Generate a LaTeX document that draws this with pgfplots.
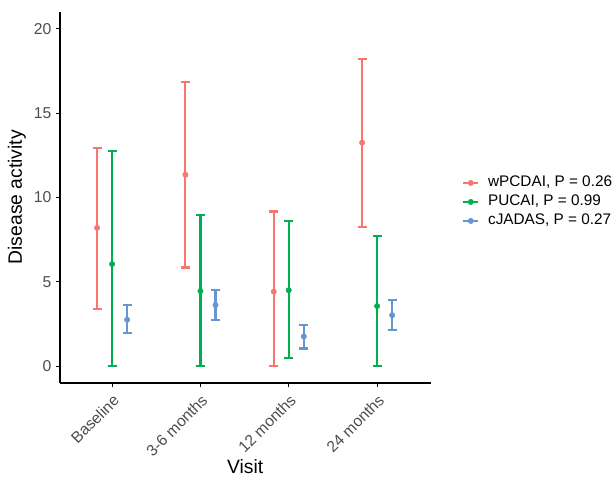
\documentclass[border=0pt]{standalone}
\usepackage{pgfplots}
\usepackage{pgfplotstable}
\pgfplotsset{compat=1.18}
\usepackage{fontspec}
\setmainfont{Liberation Sans}
\definecolor{cRed}{HTML}{F8766D}
\definecolor{cGreen}{HTML}{00B050}
\definecolor{cBlue}{HTML}{6596D3}
\definecolor{tickgray}{HTML}{4D4D4D}

\pgfplotstableread{
x y ep em
0.83 8.20 4.75 4.80
1.83 11.35 5.50 5.50
2.83 4.42 4.75 4.42
3.83 13.25 4.97 4.98
}\redtab
\pgfplotstableread{
x y ep em
1.00 6.05 6.70 6.05
2.00 4.45 4.50 4.45
3.00 4.50 4.12 4.03
4.00 3.56 4.16 3.56
}\greentab
\pgfplotstableread{
x y ep em
1.17 2.75 0.87 0.79
2.17 3.62 0.89 0.89
3.17 1.76 0.69 0.71
4.17 3.02 0.90 0.90
}\bluetab

\begin{document}
\begin{tikzpicture}
\begin{axis}[
  at={(0,0)}, anchor=south west,
  scale only axis, width=278.25pt, height=278.25pt,
  xmin=0.41, xmax=4.61, ymin=-1, ymax=21,
  axis x line*=bottom, axis y line*=left,
  axis line style={line width=0.8pt, black, -},
  xtick={1,2,3,4},
  xticklabels={Baseline,3-6 months,12 months,24 months},
  ytick={0,5,10,15,20},
  tick align=outside, major tick length=3pt,
  tick style={line width=0.8pt, black},
  /pgf/number format/assume math mode=true,
  x tick label style={rotate=45, anchor=north east, font=\fontsize{11.8}{13}\selectfont, text=tickgray},
  y tick label style={font=\fontsize{11.8}{13}\selectfont, text=tickgray},
  xlabel={Visit}, ylabel={Disease activity},
  xlabel style={at={(axis description cs:0.499,-0.224)}, anchor=center, font=\fontsize{14.5}{17}\selectfont},
  ylabel style={at={(axis description cs:-0.116,0.501)}, anchor=center, font=\fontsize{14.5}{17}\selectfont},
  legend cell align=left,
  legend style={at={(axis description cs:1.0836,0.488)}, anchor=west, draw=none, fill=none,
    inner sep=0pt, font=\fontsize{11.5}{13}\selectfont, row sep=3.25pt, column sep=6.5pt,
    nodes={inner sep=0pt, text height=8.5pt, text depth=2.5pt}},
  legend image code/.code={\draw[mark repeat=2,mark phase=2,#1,sharp plot,line width=1.6pt] plot coordinates {(0pt,0pt) (5.6pt,0pt) (11.25pt,0pt)};},
]
\addplot[only marks, mark=*, mark size=2pt, color=cRed, mark options={solid, fill=cRed, draw=cRed, line width=0.4pt},
  error bars/.cd, y dir=both, y explicit,
  error bar style={line width=1.6pt, color=cRed},
  error mark options={rotate=90, mark size=3.4pt, line width=1.6pt, color=cRed}]
  table[x=x, y=y, y error plus=ep, y error minus=em]{\redtab};
\addlegendentry{wPCDAI, P = 0.26}
\addplot[only marks, mark=*, mark size=2pt, color=cGreen, mark options={solid, fill=cGreen, draw=cGreen, line width=0.4pt},
  error bars/.cd, y dir=both, y explicit,
  error bar style={line width=1.6pt, color=cGreen},
  error mark options={rotate=90, mark size=3.4pt, line width=1.6pt, color=cGreen}]
  table[x=x, y=y, y error plus=ep, y error minus=em]{\greentab};
\addlegendentry{PUCAI, P = 0.99}
\addplot[only marks, mark=*, mark size=2pt, color=cBlue, mark options={solid, fill=cBlue, draw=cBlue, line width=0.4pt},
  error bars/.cd, y dir=both, y explicit,
  error bar style={line width=1.6pt, color=cBlue},
  error mark options={rotate=90, mark size=3.4pt, line width=1.6pt, color=cBlue}]
  table[x=x, y=y, y error plus=ep, y error minus=em]{\bluetab};
\addlegendentry{cJADAS, P = 0.27}
\end{axis}
\pgfresetboundingbox
\path (-45pt,-69.75pt) rectangle (414.75pt,287.25pt);
\end{tikzpicture}
\end{document}
